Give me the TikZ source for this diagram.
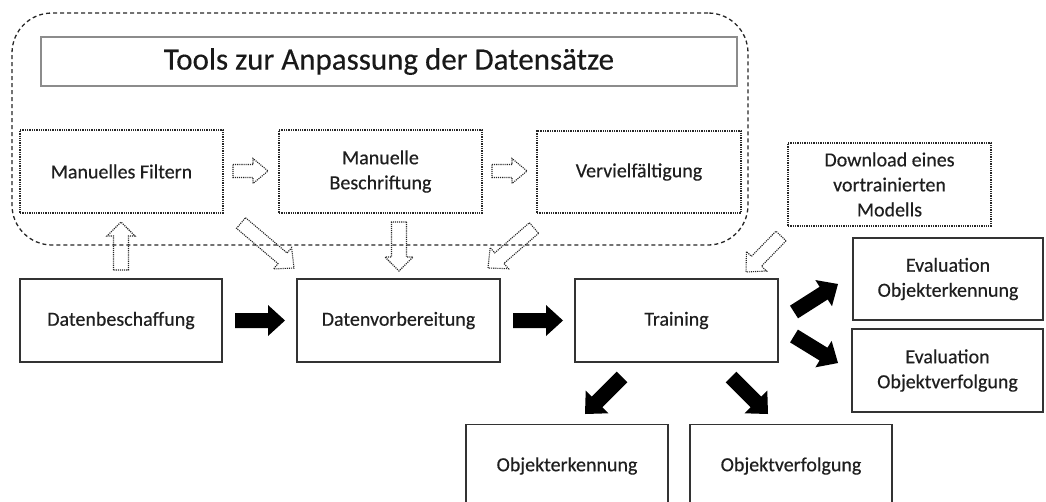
\documentclass[tikz,border=0pt]{standalone}
\usepackage{fontspec}
\setmainfont{Carlito}
\newfontfamily\labelfont{Carlito}[FakeBold=0.35]
\usetikzlibrary{calc}

\tikzset{
  label text/.style={align=center, inner sep=0pt, text=black!88,
    font=\labelfont\fontsize{20}{25}\selectfont},
  solidbox/.style={label text, draw=black!80, line width=1.6pt, fill=white},
  dotbox/.style={label text, draw=black!85, line width=1.3pt, densely dotted, fill=white},
  groupframe/.style={draw=black!85, line width=1.3pt, dash pattern=on 4pt off 3pt,
    rounded corners=40pt, inner sep=0pt},
  titlebox/.style={draw=black!45, line width=1.6pt, inner sep=0pt, text=black!90,
    font=\labelfont\fontsize{31}{36}\selectfont},
  flowarrow/.style={fill=black},
  toolarrow/.style={draw=black!85, line width=1.1pt, densely dotted, fill=white},
}

% block arrow: style, tail, tip, shaft half-width, head half-width, head length (pt)
\newcommand\blockarrow[6]{%
  \coordinate (ba-base) at ($(#3)!#6pt!(#2)$);
  \path[#1] ($(#2)!#4pt!90:(#3)$) -- ($(ba-base)!#4pt!90:(#3)$)
    -- ($(ba-base)!#5pt!90:(#3)$) -- (#3)
    -- ($(ba-base)!#5pt!-90:(#3)$) -- ($(ba-base)!#4pt!-90:(#3)$)
    -- ($(#2)!#4pt!-90:(#3)$) -- cycle;}

\begin{document}
\begin{tikzpicture}[x=1pt, y=-1pt]
  \useasboundingbox (0,0) rectangle (1046,501);
  \clip (0,0) rectangle (1046,501);

  % tool group
  \node[titlebox, minimum width=696pt, minimum height=49pt] (title) at (389,61.5)
    {Tools zur Anpassung der Datensätze};
  \node[dotbox, minimum width=203pt, minimum height=83pt] (filt) at (121.5,171.5)
    {Manuelles Filtern};
  \node[dotbox, minimum width=203pt, minimum height=83pt] (besch) at (380.5,171.5)
    {Manuelle\\Beschriftung};
  \node[dotbox, minimum width=204pt, minimum height=82pt] (verv) at (639,172)
    {Vervielfältigung};
  \node[dotbox, minimum width=203pt, minimum height=83pt] (dl) at (889.5,184.5)
    {Download eines\\vortrainierten\\Modells};

  % main pipeline
  \node[solidbox, minimum width=202pt, minimum height=83pt] (beschaff) at (121,320.5)
    {Datenbeschaffung};
  \node[solidbox, minimum width=203pt, minimum height=83pt] (vorb) at (398.5,320.5)
    {Datenvorbereitung};
  \node[solidbox, minimum width=203pt, minimum height=83pt] (train) at (676.5,320.5)
    {Training};
  \node[solidbox, minimum width=190pt, minimum height=82pt] (evalerk) at (948,279)
    {Evaluation\\Objekterkennung};
  \node[solidbox, minimum width=191pt, minimum height=83pt] (evalverf) at (947.5,370.5)
    {Evaluation\\Objektverfolgung};
  \node[solidbox, minimum width=202pt, minimum height=83pt] (oerk) at (567,466)
    {Objekterkennung};
  \node[solidbox, minimum width=202pt, minimum height=83pt] (overf) at (791,466)
    {Objektverfolgung};

  % arrow end points
  \coordinate (a1t) at (235,320.5); \coordinate (a1h) at (285,320.5);
  \coordinate (a2t) at (513,320.5); \coordinate (a2h) at (563,320.5);
  \coordinate (a3t) at (794,312);   \coordinate (a3h) at (838,284);
  \coordinate (a4t) at (794,336);   \coordinate (a4h) at (838,363);
  \coordinate (a5t) at (622,377);   \coordinate (a5h) at (585,414);
  \coordinate (a6t) at (731,377);   \coordinate (a6h) at (768,414);

  \coordinate (t1t) at (233,171);   \coordinate (t1h) at (268,171);
  \coordinate (t2t) at (492,171);   \coordinate (t2h) at (527,171);
  \coordinate (t3t) at (399,222);   \coordinate (t3h) at (399,271);
  \coordinate (t4t) at (121,270);   \coordinate (t4h) at (121,222);
  \coordinate (t5t) at (241,223);   \coordinate (t5h) at (294,268);
  \coordinate (t6t) at (534,228);   \coordinate (t6h) at (488,268);
  \coordinate (t7t) at (781,236);   \coordinate (t7h) at (746,272);

  % hollow arrows of the tool group
  \blockarrow{toolarrow}{t1t}{t1h}{6.5}{12.5}{15}
  \blockarrow{toolarrow}{t2t}{t2h}{6.5}{12.5}{15}
  \blockarrow{toolarrow}{t3t}{t3h}{7.5}{14}{14}
  \blockarrow{toolarrow}{t4t}{t4h}{7.5}{14}{14}
  \blockarrow{toolarrow}{t5t}{t5h}{7}{14}{15}
  \blockarrow{toolarrow}{t6t}{t6h}{7}{14}{15}
  \blockarrow{toolarrow}{t7t}{t7h}{7}{14}{15}

  % dashed frame around the tools
  \node[groupframe, minimum width=736pt, minimum height=232pt] (grp) at (380,129) {};

  % solid pipeline arrows
  \blockarrow{flowarrow}{a1t}{a1h}{7.5}{15.5}{17}
  \blockarrow{flowarrow}{a2t}{a2h}{7.5}{15.5}{17}
  \blockarrow{flowarrow}{a3t}{a3h}{7.5}{15.5}{17}
  \blockarrow{flowarrow}{a4t}{a4h}{7.5}{15.5}{17}
  \blockarrow{flowarrow}{a5t}{a5h}{7.5}{16}{17}
  \blockarrow{flowarrow}{a6t}{a6h}{7.5}{16}{17}
\end{tikzpicture}
\end{document}
